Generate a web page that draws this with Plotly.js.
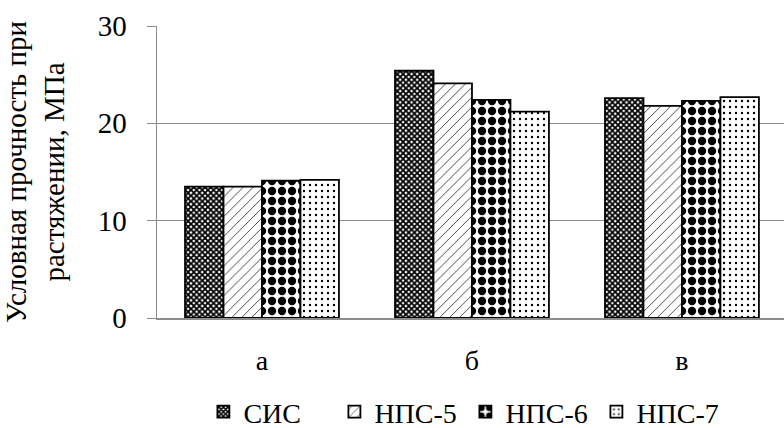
<!DOCTYPE html>
<html>
<head>
<meta charset="utf-8">
<script src="https://cdn.plot.ly/plotly-3.0.1.min.js"></script>
<style>html,body{margin:0;padding:0;overflow:hidden;background:#fff}</style>
</head>
<body>
<div id="chart" style="width:784px;height:428px"></div>
<script>
const categories = ["а", "б", "в"];
const seriesNames = ["СИС", "НПС-5", "НПС-6", "НПС-7"];
const sis = [13.5, 25.4, 22.6];
const nps5 = [13.5, 24.1, 21.8];
const nps6 = [14.1, 22.4, 22.3];
const nps7 = [14.2, 21.2, 22.7];
const yTicks = [0, 10, 20, 30];

const patterns = [
  {shape: "x", size: 4, solidity: 0.7, fgcolor: "#000", bgcolor: "#fff"},
  {shape: "/", size: 7, solidity: 0.1, fgcolor: "#000", bgcolor: "#fff"},
  {shape: ".", size: 10, solidity: 0.55, fgcolor: "#000", bgcolor: "#fff"},
  {shape: ".", size: 6, solidity: 0.12, fgcolor: "#000", bgcolor: "#fff"}
];
const values = [sis, nps5, nps6, nps7];

const data = values.map((v, i) => ({
  type: "bar",
  name: seriesNames[i],
  x: categories,
  y: v,
  marker: {color: "#fff", line: {color: "#000", width: 1.8}, pattern: patterns[i]}
}));

const FAM = "Liberation Serif";
const f = (s) => ({family: FAM, size: s, color: "#000", weight: "normal"});

const layout = {
  width: 784, height: 428,
  margin: {l: 157, r: 0, t: 26, b: 110, autoexpand: false},
  paper_bgcolor: "#fff", plot_bgcolor: "#fff",
  barmode: "group",
  bargap: 0.267,
  bargroupgap: 0,
  showlegend: true,
  font: f(28),
  legend: {
    orientation: "h", x: 0.074, xanchor: "left", y: -0.322, yanchor: "middle",
    font: f(28),
    entrywidth: 86, entrywidthmode: "pixels",
    itemwidth: 30, traceorder: "normal"
  },
  xaxis: {
    type: "category",
    range: [-0.5, 2.486],
    showline: true, linecolor: "#8c8c8c", linewidth: 1.5,
    ticks: "", tickfont: f(28),
    ticklabelstandoff: 17,
    showgrid: false, zeroline: false, fixedrange: true
  },
  yaxis: {
    range: [0, 30],
    tickvals: yTicks,
    ticktext: yTicks.map(String),
    showline: true, linecolor: "#8c8c8c", linewidth: 1.5,
    ticks: "outside", ticklen: 9, tickcolor: "#8c8c8c",
    ticklabelstandoff: 14,
    showgrid: true, gridcolor: "#8c8c8c", gridwidth: 1.5,
    zeroline: false,
    tickfont: f(29),
    title: {text: "Условная прочность при<br>растяжении, МПа", font: f(29), standoff: 26},
    automargin: false
  }
};

Plotly.newPlot("chart", data, layout, {displayModeBar: false, staticPlot: true});
</script>
</body>
</html>
